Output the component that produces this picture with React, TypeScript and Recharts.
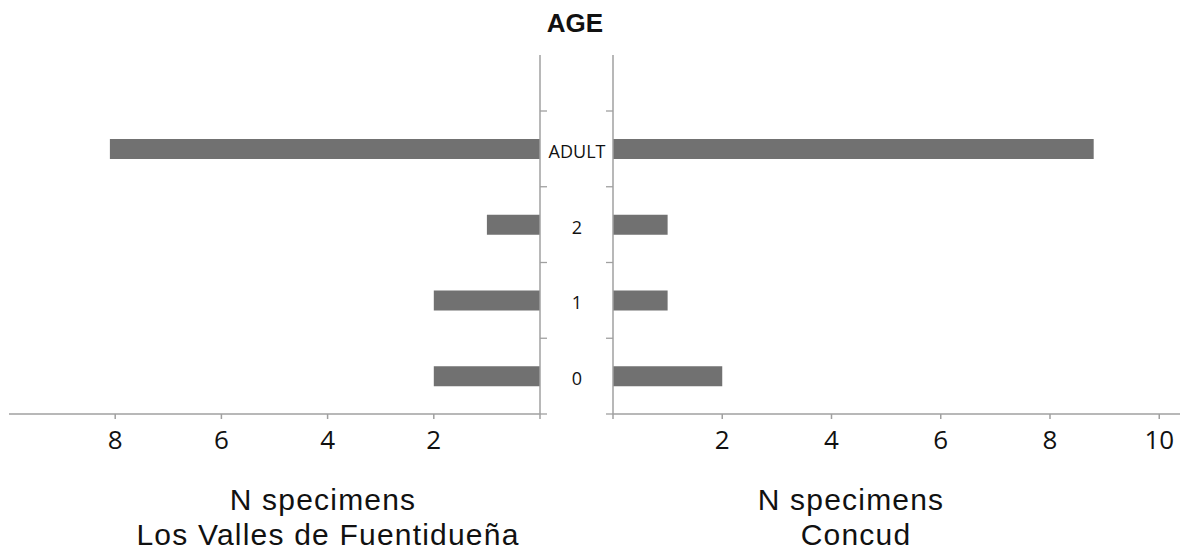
import React from 'react';
import { BarChart, Bar, XAxis, YAxis } from 'recharts';

const categories = ['ADULT', '2', '1', '0'];
const vallesValues = [8.1, 1, 2, 2];
const concudValues = [8.8, 1, 1, 2];
const leftTicks = [0, 2, 4, 6, 8];
const rightTicks = [0, 2, 4, 6, 8, 10];

const leftData = categories.map((age, i) => ({ age, n: vallesValues[i] }));
const rightData = categories.map((age, i) => ({ age, n: concudValues[i] }));

const AXIS = '#a0a0a0';
const BAR = '#717171';
const TICK_FONT = "'Open Sans', 'Noto Sans', sans-serif";
const TITLE_FONT = "'Liberation Sans', Arial, sans-serif";

const isLast = (value: any) => value === categories[categories.length - 1];

function LeftCatTick(props: any) {
  const { x, y, payload } = props;
  const off = payload && payload.offset ? payload.offset : 38;
  return (
    <g>
      <line x1={x} x2={x + 7} y1={y - off} y2={y - off} stroke={AXIS} strokeWidth={1.3} />
      {isLast(payload.value) && (
        <line x1={x} x2={x + 7} y1={y + off} y2={y + off} stroke={AXIS} strokeWidth={1.3} />
      )}
    </g>
  );
}

function RightCatTick(props: any) {
  const { x, y, payload } = props;
  const off = payload && payload.offset ? payload.offset : 38;
  return (
    <g>
      <line x1={x - 7} x2={x} y1={y - off} y2={y - off} stroke={AXIS} strokeWidth={1.3} />
      {isLast(payload.value) && (
        <line x1={x - 7} x2={x} y1={y + off} y2={y + off} stroke={AXIS} strokeWidth={1.3} />
      )}
      <text
        x={x - 36}
        y={y + 2}
        textAnchor="middle"
        dominantBaseline="central"
        fontFamily={TICK_FONT}
        fontSize={18}
        fill="#111"
      >
        {payload.value}
      </text>
    </g>
  );
}

const hideZero = (v: number) => (v === 0 ? '' : String(v));

export default function App() {
  return (
    <div style={{ position: 'relative', width: 1180, height: 553, background: '#fff' }}>
      <style>{`body{margin:0;}`}</style>
      <div style={{ position: 'absolute', left: 0, top: 0 }}>
        <BarChart
          width={560}
          height={553}
          data={leftData}
          layout="vertical"
          margin={{ top: 55, right: 0, left: 9, bottom: 99 }}
        >
          <XAxis
            type="number"
            dataKey="n"
            domain={[0, 10]}
            ticks={leftTicks}
            reversed
            height={40}
            stroke={AXIS}
            strokeWidth={1.5}
            tickSize={5}
            tickMargin={12}
            tickFormatter={hideZero}
            tick={{ fontFamily: TICK_FONT, fontSize: 26, fill: '#111' }}
            interval={0}
            allowDataOverflow
          />
          <YAxis
            type="category"
            dataKey="age"
            orientation="right"
            width={20}
            stroke={AXIS}
            strokeWidth={1.5}
            tickLine={false}
            tickSize={0}
            tickMargin={0}
            padding={{ top: 56, bottom: 0 }}
            tick={<LeftCatTick />}
            interval={0}
          />
          <Bar dataKey="n" fill={BAR} barSize={20} isAnimationActive={false} />
        </BarChart>
      </div>
      <div style={{ position: 'absolute', left: 0, top: 0 }}>
        <BarChart
          width={1180}
          height={553}
          data={rightData}
          layout="vertical"
          margin={{ top: 55, right: 0, left: 543, bottom: 99 }}
        >
          <XAxis
            type="number"
            dataKey="n"
            domain={[0, 10.38]}
            ticks={rightTicks}
            height={40}
            stroke={AXIS}
            strokeWidth={1.5}
            tickSize={5}
            tickMargin={12}
            tickFormatter={hideZero}
            tick={{ fontFamily: TICK_FONT, fontSize: 26, fill: '#111' }}
            interval={0}
            allowDataOverflow
          />
          <YAxis
            type="category"
            dataKey="age"
            orientation="left"
            width={70}
            stroke={AXIS}
            strokeWidth={1.5}
            tickLine={false}
            tickSize={0}
            tickMargin={0}
            padding={{ top: 56, bottom: 0 }}
            tick={<RightCatTick />}
            interval={0}
          />
          <Bar dataKey="n" fill={BAR} barSize={20} isAnimationActive={false} />
        </BarChart>
      </div>
      <svg
        width={1180}
        height={553}
        style={{ position: 'absolute', left: 0, top: 0, pointerEvents: 'none' }}
      >
        <text x={575} y={32} textAnchor="middle" fontFamily={TITLE_FONT} fontWeight="bold" fontSize={26} fill="#111">
          AGE
        </text>
        <text x={323} y={510} textAnchor="middle" fontFamily={TITLE_FONT} fontSize={30} letterSpacing={1.2} fill="#111">
          N specimens
        </text>
        <text x={328} y={545} textAnchor="middle" fontFamily={TITLE_FONT} fontSize={30} letterSpacing={1.2} fill="#111">
          Los Valles de Fuentidueña
        </text>
        <text x={851} y={510} textAnchor="middle" fontFamily={TITLE_FONT} fontSize={30} letterSpacing={1.2} fill="#111">
          N specimens
        </text>
        <text x={856} y={545} textAnchor="middle" fontFamily={TITLE_FONT} fontSize={30} letterSpacing={1.2} fill="#111">
          Concud
        </text>
      </svg>
    </div>
  );
}
